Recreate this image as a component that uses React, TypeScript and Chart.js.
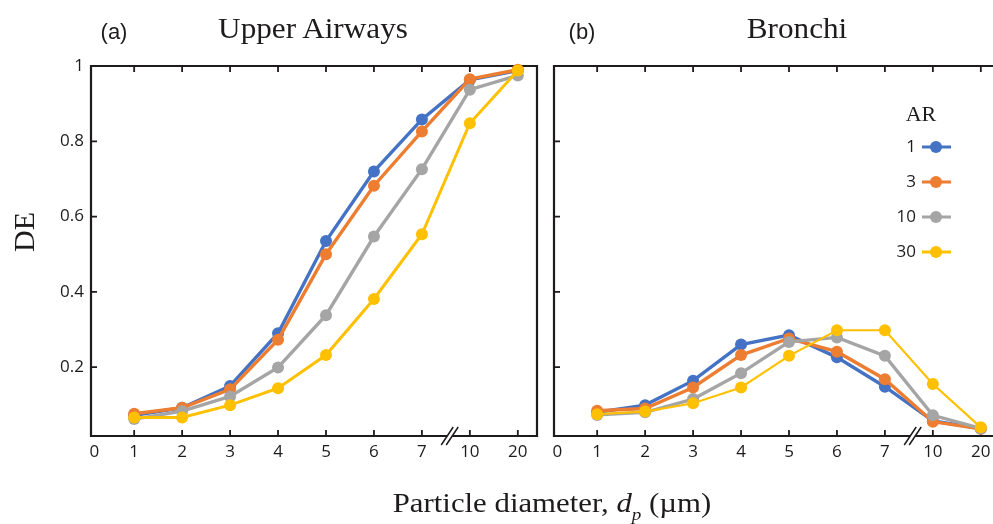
import React, { useEffect, useRef } from 'react';
import { Chart, registerables } from 'chart.js';

Chart.register(...registerables);

// ---- data ----
const X_POSITIONS = [1, 2, 3, 4, 5, 6, 7, 8, 9];
const X_TICK_VALUES = [0.17, 1, 2, 3, 4, 5, 6, 7, 8, 9];
const X_TICK_LABELS = ['0', '1', '2', '3', '4', '5', '6', '7', '10', '20'];
const X_BREAK = 7.58;
const Y_TICK_VALUES = [0.2, 0.4, 0.6, 0.8, 1];
const Y_TICK_LABELS = ['0.2', '0.4', '0.6', '0.8', '1'];
const AR_LABELS = ['1', '3', '10', '30'];
const COLORS = ['#4472C4', '#ED7D31', '#A5A5A5', '#FFC000'];

const UPPER_AR1 = [0.072, 0.092, 0.15, 0.29, 0.535, 0.72, 0.858, 0.963, 0.988];
const UPPER_AR3 = [0.076, 0.092, 0.141, 0.273, 0.5, 0.682, 0.826, 0.965, 0.99];
const UPPER_AR10 = [0.062, 0.083, 0.122, 0.199, 0.338, 0.547, 0.726, 0.937, 0.975];
const UPPER_AR30 = [0.066, 0.066, 0.099, 0.144, 0.232, 0.381, 0.553, 0.848, 0.988];

const BRONCHI_AR1 = [0.08, 0.099, 0.164, 0.26, 0.285, 0.226, 0.148, 0.057, 0.037];
const BRONCHI_AR3 = [0.084, 0.09, 0.146, 0.232, 0.276, 0.241, 0.168, 0.055, 0.036];
const BRONCHI_AR10 = [0.073, 0.08, 0.115, 0.184, 0.267, 0.279, 0.23, 0.072, 0.037];
const BRONCHI_AR30 = [0.075, 0.082, 0.104, 0.146, 0.23, 0.298, 0.298, 0.155, 0.04];

const X_MIN = 0.1;
const X_MAX = 9.4;
const Y_MIN = 0.017;
const Y_MAX = 1.0;

const INK = '#1e1b1c';
const TICK_FONT = { family: '"Open Sans", sans-serif', size: 17 };

const framePlugin = {
  id: 'frame',
  beforeDatasetsDraw(chart: any, _args: any, opts: any) {
    const { ctx, chartArea: a, scales } = chart;
    const x = scales.x;
    const y = scales.y;
    ctx.save();
    ctx.strokeStyle = INK;
    ctx.lineWidth = 2.2;
    ctx.beginPath();
    ctx.rect(a.left, a.top, a.right - a.left, a.bottom - a.top);
    ctx.stroke();
    ctx.lineWidth = 1.8;
    ctx.beginPath();
    X_POSITIONS.forEach((v) => {
      const px = x.getPixelForValue(v);
      ctx.moveTo(px, a.top);
      ctx.lineTo(px, a.top + 6);
      ctx.moveTo(px, a.bottom);
      ctx.lineTo(px, a.bottom - 6);
    });
    Y_TICK_VALUES.forEach((v) => {
      const py = y.getPixelForValue(v);
      ctx.moveTo(a.left, py);
      ctx.lineTo(a.left + 6, py);
      if (opts && opts.rightTicks) {
        ctx.moveTo(a.right, py);
        ctx.lineTo(a.right - 6, py);
      }
    });
    ctx.stroke();
    // axis break
    const bx = x.getPixelForValue(X_BREAK);
    ctx.fillStyle = '#ffffff';
    ctx.fillRect(bx - 2.5, a.bottom - 2, 5, 4);
    ctx.lineWidth = 1.5;
    ctx.beginPath();
    [-2.5, 2.5].forEach((d) => {
      ctx.moveTo(bx + d - 6, a.bottom + 9);
      ctx.lineTo(bx + d + 6, a.bottom - 9);
    });
    ctx.stroke();
    ctx.restore();
  },
};

const legendPlugin = {
  id: 'arLegend',
  afterDatasetsDraw(chart: any, _args: any, opts: any) {
    if (!opts || !opts.show) return;
    const { ctx, chartArea: a } = chart;
    const markerX = a.left + 382;
    ctx.save();
    ctx.fillStyle = INK;
    ctx.font = '22px "Liberation Serif", serif';
    ctx.textAlign = 'center';
    ctx.textBaseline = 'alphabetic';
    ctx.fillText('AR', a.left + 367, 121);
    ctx.font = '17px "Open Sans", sans-serif';
    ctx.textAlign = 'right';
    ctx.textBaseline = 'middle';
    AR_LABELS.forEach((lab, i) => {
      const yy = 147 + i * 35;
      ctx.fillStyle = INK;
      ctx.fillText(lab, a.left + 362, yy);
      ctx.strokeStyle = COLORS[i];
      ctx.lineWidth = 3;
      ctx.beginPath();
      ctx.moveTo(markerX - 14, yy);
      ctx.lineTo(markerX + 15, yy);
      ctx.stroke();
      ctx.fillStyle = COLORS[i];
      ctx.beginPath();
      ctx.arc(markerX, yy, 6, 0, Math.PI * 2);
      ctx.fill();
    });
    ctx.restore();
  },
};

function makeConfig(series: number[][], right: boolean, yWidth: number, padRight: number) {
  const widths = right ? [3.4, 3.4, 3.4, 2.2] : [3.4, 3.4, 3.4, 3];
  return {
    type: 'line' as const,
    data: {
      datasets: series.map((s, i) => ({
        label: AR_LABELS[i],
        data: s.map((v, j) => ({ x: X_POSITIONS[j], y: v })),
        borderColor: COLORS[i],
        backgroundColor: COLORS[i],
        borderWidth: widths[i],
        pointRadius: 6,
        pointBorderWidth: 0,
        pointBackgroundColor: COLORS[i],
        tension: 0,
        order: 4 - i,
        clip: false as any,
      })),
    },
    options: {
      responsive: false,
      maintainAspectRatio: false,
      animation: false as const,
      events: [] as any,
      layout: { padding: { top: 66, right: padRight, bottom: 0, left: 0 } },
      plugins: {
        legend: { display: false },
        tooltip: { enabled: false },
        title: { display: false },
        frame: { rightTicks: right },
        arLegend: { show: right },
      } as any,
      scales: {
        x: {
          type: 'linear' as const,
          min: X_MIN,
          max: X_MAX,
          grid: { display: false, drawTicks: false },
          border: { display: false },
          afterBuildTicks: (scale: any) => {
            scale.ticks = X_TICK_VALUES.map((v) => ({ value: v }));
          },
          afterFit: (scale: any) => {
            scale.height = 88;
          },
          ticks: {
            autoSkip: false,
            maxRotation: 0,
            padding: 6,
            color: INK,
            font: TICK_FONT,
            callback: (_v: any, i: number) => X_TICK_LABELS[i],
          },
        },
        y: {
          type: 'linear' as const,
          min: Y_MIN,
          max: Y_MAX,
          grid: { display: false, drawTicks: false },
          border: { display: false },
          afterBuildTicks: (scale: any) => {
            scale.ticks = Y_TICK_VALUES.map((v) => ({ value: v }));
          },
          afterFit: (scale: any) => {
            scale.width = yWidth;
          },
          ticks: {
            display: !right,
            padding: 7,
            color: INK,
            font: TICK_FONT,
            callback: (_v: any, i: number) => Y_TICK_LABELS[i],
          },
        },
      },
    },
    plugins: [framePlugin, legendPlugin],
  };
}

function Panel(props: { series: number[][]; right: boolean; left: number; width: number; yWidth: number; padRight: number }) {
  const ref = useRef<HTMLCanvasElement>(null);
  useEffect(() => {
    if (!ref.current) return;
    const chart = new Chart(ref.current, makeConfig(props.series, props.right, props.yWidth, props.padRight) as any);
    return () => chart.destroy();
  }, []);
  return (
    <canvas
      ref={ref}
      width={props.width}
      height={524}
      style={{ position: 'absolute', left: props.left, top: 0, width: props.width, height: 524 }}
    />
  );
}

const serif = '"Liberation Serif", "Times New Roman", serif';
const sans = '"Liberation Sans", Arial, sans-serif';

export default function App() {
  const txt = (extra: React.CSSProperties): React.CSSProperties => ({
    position: 'absolute',
    whiteSpace: 'nowrap',
    color: INK,
    ...extra,
  });
  return (
    <div style={{ position: 'absolute', left: 0, top: 0, width: 993, height: 524, overflow: 'hidden', background: '#fff' }}>
      <Panel series={[UPPER_AR1, UPPER_AR3, UPPER_AR10, UPPER_AR30]} right={false} left={0} width={545} yWidth={91} padRight={8} />
      <Panel series={[BRONCHI_AR1, BRONCHI_AR3, BRONCHI_AR10, BRONCHI_AR30]} right={true} left={545} width={470} yWidth={9} padRight={15} />
      <div style={txt({ left: 114, top: 21, font: `22px/22px ${sans}`, transform: 'translateX(-50%)' })}>(a)</div>
      <div style={txt({ left: 582, top: 21, font: `22px/22px ${sans}`, transform: 'translateX(-50%)' })}>(b)</div>
      <div style={txt({ left: 312.5, top: 12.5, font: `30px/30px ${serif}`, transform: 'translateX(-50%) scaleX(1.04)' })}>Upper Airways</div>
      <div style={txt({ left: 797, top: 12.5, font: `30px/30px ${serif}`, transform: 'translateX(-50%) scaleX(1.04)' })}>Bronchi</div>
      <div style={txt({ left: 24, top: 232, font: `30px/30px ${serif}`, transform: 'translate(-50%, -50%) rotate(-90deg)' })}>DE</div>
      <div style={txt({ left: 552, top: 488.5, font: `28px/28px ${serif}`, transform: 'translateX(-50%) scaleX(1.1)' })}>
        Particle diameter, <i>d</i>
        <sub style={{ fontSize: '0.62em', verticalAlign: '-0.45em', lineHeight: 0 }}>
          <i>p</i>
        </sub>{' '}
        (µm)
      </div>
    </div>
  );
}
